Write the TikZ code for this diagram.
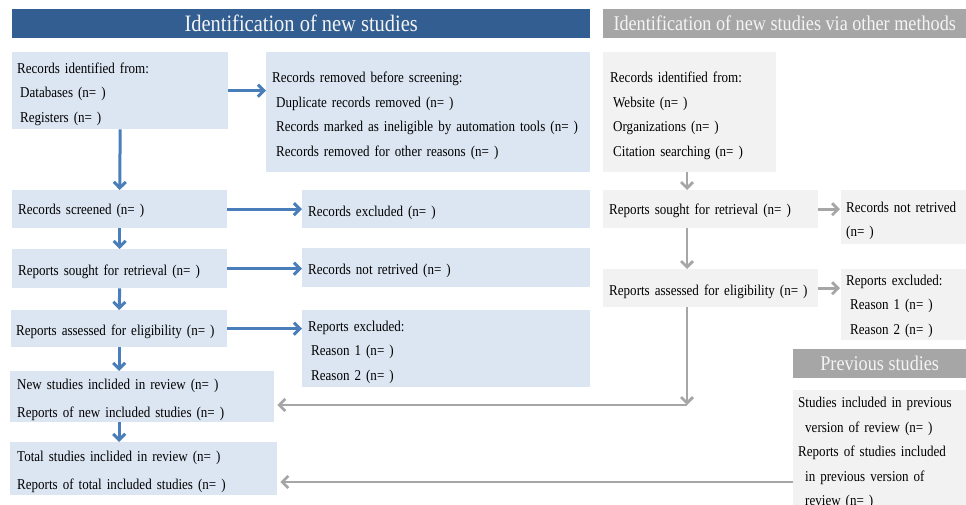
\documentclass[tikz,border=0pt]{standalone}
\usepackage{fontspec}
\setmainfont[FakeStretch=0.87]{Liberation Serif}
\usetikzlibrary{arrows.meta}
\definecolor{hblue}{HTML}{335E91}
\definecolor{hgray}{HTML}{A6A6A6}
\definecolor{lblue}{HTML}{DCE6F2}
\definecolor{lgray}{HTML}{F2F2F2}
\definecolor{ablue}{HTML}{4A7EBB}
\definecolor{agray}{HTML}{A6A6A6}
\definecolor{htext}{HTML}{F4F4F4}
\newcommand\nb[1]{\mbox{#1}}
\newcommand\tstrut{\rule{0pt}{17.6pt}}
\newcommand\sstrut{\rule{0pt}{13.6pt}}
\begin{document}
\begin{tikzpicture}[x=1pt,y=-1pt,
  txt/.style={font=\fontsize{15}{24.5}\selectfont},
  bx/.style={fill=lblue, anchor=north west, align=left, inner ysep=0pt, txt},
  gbx/.style={bx, fill=lgray},
  hdr/.style={anchor=north west, inner sep=0pt, text=htext, minimum height=29pt},
  barrow/.style={draw=ablue, line width=3pt, -{Straight Barb[length=6pt,width=12pt]}},
  garrow/.style={draw=agray, line width=2.7pt, -{Straight Barb[length=6pt,width=12pt]}}
]
\useasboundingbox (0,0) rectangle (966,505);
\clip (0,0) rectangle (966,505);
\fill[white] (0,0) rectangle (966,505);

% headers
\node[hdr, fill=hblue, minimum width=578pt, font=\fontsize{23.5}{26}\selectfont] (h1) at (12,9) {Identification of new studies};
\node[hdr, fill=hgray, minimum width=363pt, font=\fontsize{20.9}{24}\selectfont] (h2) at (603,9) {Identification of new studies via other methods};
\node[hdr, fill=hgray, minimum width=173pt, font=\fontsize{20.9}{24}\selectfont] (h3) at (793,349) {Previous studies};

% left column
\node[bx, text width=206pt, inner xsep=5pt, minimum height=77pt] (b1) at (12,52)
  {\tstrut Records identified from:\\\hspace*{3pt}Databases (n= )\\\hspace*{3pt}Registers (n= )};
\node[bx, text width=312pt, inner xsep=6pt, minimum height=120pt] (rm) at (266,52)
  {\tstrut Records removed before screening:\\\hspace*{4pt}Duplicate records removed (n= )\\\hspace*{4pt}\nb{Records marked as ineligible by automation tools (n= )}\\\hspace*{4pt}Records removed for other reasons (n= )};
\node[bx, text width=203pt, inner xsep=6pt, minimum height=38pt] (scr) at (12,190) {\sstrut Records screened (n= )};
\node[bx, text width=276pt, inner xsep=6pt, minimum height=38pt] (exc) at (302,190) {\tstrut Records excluded (n= )};
\node[bx, text width=203pt, inner xsep=6pt, minimum height=39pt] (sought) at (12,249) {\tstrut\nb{Reports sought for retrieval (n= )}};
\node[bx, text width=276pt, inner xsep=6pt, minimum height=39pt] (notret) at (302,248) {\tstrut Records not retrived (n= )};
\node[bx, text width=206pt, inner xsep=5pt, minimum height=37pt] (assess) at (11,310) {\tstrut\nb{Reports assessed for eligibility (n= )}};
\node[bx, text width=276pt, inner xsep=6pt, minimum height=77pt] (rexc) at (302,310)
  {\tstrut Reports excluded:\\\hspace*{3pt}Reason 1 (n= )\\\hspace*{3pt}Reason 2 (n= )};
\node[bx, text width=250pt, inner xsep=7pt, minimum height=51pt, font=\fontsize{15}{28}\selectfont] (newst) at (10,371)
  {\tstrut New studies inclided in review (n= )\\\nb{Reports of new included studies (n= )}};
\node[bx, text width=253pt, inner xsep=7pt, minimum height=53pt, font=\fontsize{15}{28}\selectfont] (total) at (10,442)
  {\tstrut Total studies inclided in review (n= )\\\nb{Reports of total included studies (n= )}};

% right column
\node[gbx, text width=159pt, inner xsep=7pt, minimum height=120pt] (oid) at (603,52)
  {\tstrut Records identified from:\\\hspace*{3pt}Website (n= )\\\hspace*{3pt}Organizations (n= )\\\hspace*{3pt}\nb{Citation searching (n= )}};
\node[gbx, text width=203pt, inner xsep=6pt, minimum height=38pt] (osought) at (603,190) {\sstrut\nb{Reports sought for retrieval (n= )}};
\node[gbx, text width=116pt, inner xsep=5pt, minimum height=54pt] (onotret) at (841,190) {\tstrut\nb{Records not retrived}\\(n= )};
\node[gbx, text width=203pt, inner xsep=6pt, minimum height=38pt] (oassess) at (603,269) {\tstrut\nb{Reports assessed for eligibility (n= )}};
\node[gbx, text width=116pt, inner xsep=5pt, minimum height=71pt] (orexc) at (841,269)
  {\sstrut Reports excluded:\\\hspace*{4pt}Reason 1 (n= )\\\hspace*{4pt}Reason 2 (n= )};
\node[gbx, text width=164pt, inner xsep=5pt, minimum height=126pt] (prev) at (793,390)
  {\nb{Studies included in previous}\\\hspace*{7pt}\nb{version of review (n= )}\\\nb{Reports of studies included}\\\hspace*{7pt}\nb{in previous version of}\\\hspace*{7pt}review (n= )};

% blue connectors
\draw[barrow] (b1.east) -- (b1.east -| rm.west);
\draw[barrow] (b1.south) -- (scr.north);
\draw[barrow] (scr.east) -- (scr.east -| exc.west);
\draw[barrow] (scr.south) -- (sought.north);
\draw[barrow] (sought.east) -- (sought.east -| notret.west);
\draw[barrow] (sought.south) -- (assess.north);
\draw[barrow] (assess.east) -- (assess.east -| rexc.west);
\draw[barrow] (assess.south) -- (assess.south |- newst.north);
\draw[barrow] (assess.south |- newst.south) -- (assess.south |- total.north);

% gray connectors
\coordinate (c1) at (687,405);
\coordinate (c2) at (793,482);
\draw[garrow] (c1 |- oid.south) -- (c1 |- osought.north);
\draw[garrow] (c1 |- osought.south) -- (c1 |- oassess.north);
\draw[garrow, shorten >=1pt] (osought.east) -- (osought.east -| onotret.west);
\draw[garrow, shorten >=1pt] (oassess.east) -- (oassess.east -| orexc.west);
\draw[garrow] (c1 |- oassess.south) -- (c1);
\draw[garrow, shorten >=3pt] (c1) -- (c1 -| newst.east);
\draw[garrow, shorten >=3pt] (c2 -| prev.west) -- (c2 -| total.east);
\end{tikzpicture}
\end{document}
